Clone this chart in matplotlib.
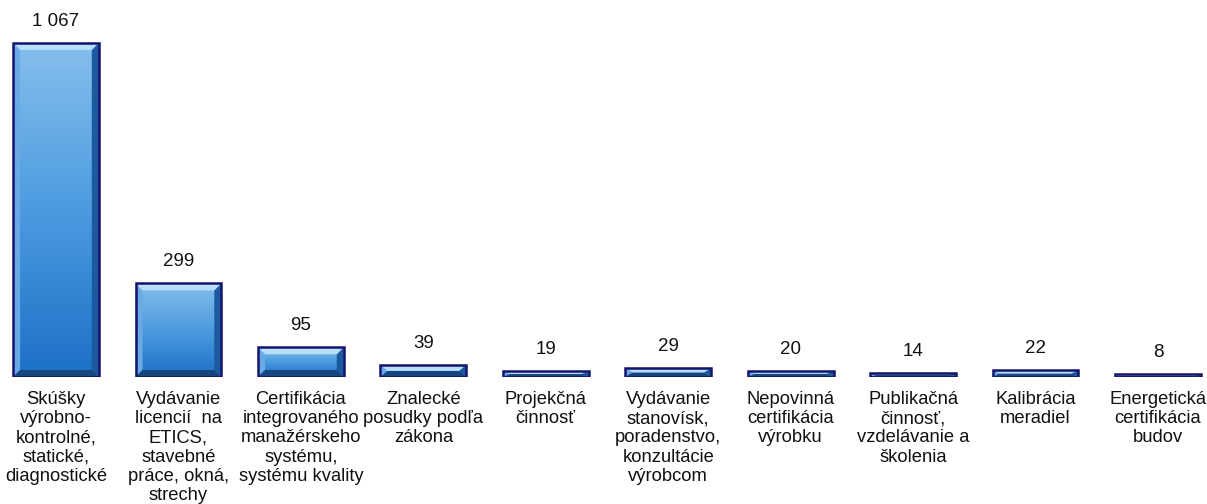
import numpy as np
import matplotlib
matplotlib.use('Agg')
import matplotlib.pyplot as plt
from matplotlib.patches import Polygon

plt.rcParams['font.family'] = ['Liberation Sans', 'DejaVu Sans']

# údaje z grafu
categories = [
    'Skúšky\nvýrobno-\nkontrolné,\nstatické,\ndiagnostické',
    'Vydávanie\nlicencií  na\nETICS,\nstavebné\npráce, okná,\nstrechy',
    'Certifikácia\nintegrovaného\nmanažérskeho\nsystému,\nsystému kvality',
    'Znalecké\nposudky podľa\nzákona',
    'Projekčná\nčinnosť',
    'Vydávanie\nstanovísk,\nporadenstvo,\nkonzultácie\nvýrobcom',
    'Nepovinná\ncertifikácia\nvýrobku',
    'Publikačná\nčinnosť,\nvzdelávanie a\nškolenia',
    'Kalibrácia\nmeradiel',
    'Energetická\ncertifikácia\nbudov',
]
values = [1067, 299, 95, 39, 19, 29, 20, 14, 22, 8]

fig = plt.figure(figsize=(12.07, 5.04), dpi=100)
ax = fig.add_axes([0, 0.252, 1, 0.748])

x = np.arange(len(values))
w = 0.70
ax.set_xlim(-0.457, 9.40)
ax.set_ylim(0, 1204)

bars = ax.bar(x, values, width=w, color='#2F86D6', edgecolor='none', zorder=2)

# prepočet pixelov na dátové jednotky pre skosenie
px_x = (1207 / (9.40 + 0.457))
px_y = (377 / 1204)
bev = 7
bx = bev / px_x
by = bev / px_y

grad = np.linspace(0, 1, 256).reshape(-1, 1)
cmap = matplotlib.colors.LinearSegmentedColormap.from_list('g', ['#1C70C6', '#4C9BE0', '#86BFEC'])

for i, v in enumerate(values):
    x0, x1 = i - w / 2, i + w / 2
    b = min(by, v / 2)
    img = ax.imshow(grad, extent=[x0, x1, 0, v], origin='lower', cmap=cmap,
                    aspect='auto', zorder=2)
    img.set_clip_path(bars[i])
    top = [(x0, v), (x1, v), (x1 - bx, v - b), (x0 + bx, v - b)]
    bot = [(x0, 0), (x1, 0), (x1 - bx, b), (x0 + bx, b)]
    left = [(x0, 0), (x0, v), (x0 + bx, v - b), (x0 + bx, b)]
    right = [(x1, 0), (x1, v), (x1 - bx, v - b), (x1 - bx, b)]
    ax.add_patch(Polygon(left, closed=True, fc='#6AAAE4', ec='none', zorder=3))
    ax.add_patch(Polygon(right, closed=True, fc='#1B5A9F', ec='none', zorder=3))
    ax.add_patch(Polygon(bot, closed=True, fc='#17467F', ec='none', zorder=3))
    ax.add_patch(Polygon(top, closed=True, fc='#B8DEF8', ec='none', zorder=3))
    ax.annotate(f'{v:,}'.replace(',', ' '), (i, v), xytext=(0, 15.5),
                textcoords='offset points', ha='center', va='center',
                fontsize=13.5, color='#111111')

ax.bar(x, values, width=w, color='none', edgecolor='#14146E', linewidth=1.8, zorder=4)

ax.set_xticks(x)
ax.set_xticklabels(categories, fontsize=13.2, color='#111111', linespacing=1.17)
ax.tick_params(axis='x', length=0, pad=10)
ax.set_yticks([])
for s in ax.spines.values():
    s.set_visible(False)

fig.savefig('out.png', dpi=100)
